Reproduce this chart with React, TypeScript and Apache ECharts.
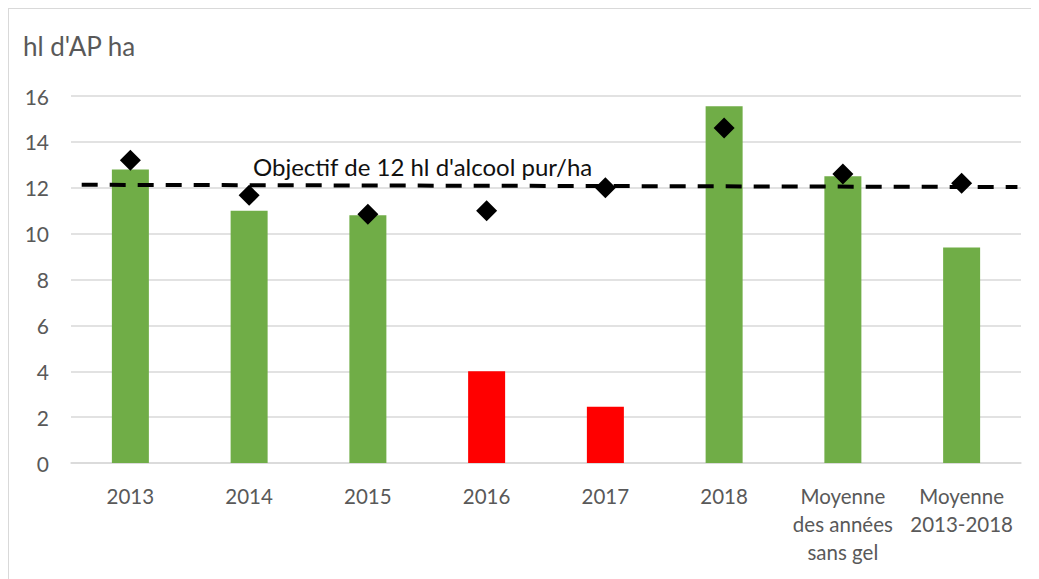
import React, { useEffect, useRef } from "react";
import * as echarts from "echarts";

const categories = ["2013", "2014", "2015", "2016", "2017", "2018", "Moyenne\ndes années\nsans gel", "Moyenne\n2013-2018"];
const barValues = [12.8, 11.0, 10.8, 4.0, 2.45, 15.55, 12.5, 9.4];
const barColors = ["#70ad47", "#70ad47", "#70ad47", "#ff0000", "#ff0000", "#70ad47", "#70ad47", "#70ad47"];
const diamondValues = [13.2, 11.67, 10.84, 11.0, 12.0, 14.6, 12.6, 12.2];
const objectiveLine = [
  [0.09, 12.13],
  [7.97, 12.03],
];
const yTicks = { min: 0, max: 16, interval: 2 };
const yTitle = "hl d'AP ha";
const objectiveLabel = "Objectif de 12 hl d'alcool pur/ha";

const FONT = "Lato, 'Open Sans', sans-serif";

export default function App() {
  const ref = useRef<HTMLDivElement>(null);
  useEffect(() => {
    if (!ref.current) return;
    const chart = echarts.init(ref.current, undefined, { renderer: "svg" });
    chart.setOption({
      animation: false,
      textStyle: { fontFamily: FONT },
      grid: { left: 62, right: 18, top: 87, bottom: 116, containLabel: false },
      xAxis: [
        {
          type: "category",
          data: categories,
          axisLine: { show: true, lineStyle: { color: "#d9d9d9", width: 1.5 } },
          axisTick: { show: false },
          axisLabel: {
            color: "#595959",
            fontSize: 20.5,
            fontFamily: FONT,
            margin: 19,
            lineHeight: 28,
            interval: 0,
          },
        },
        { type: "value", min: 0, max: 8, show: false },
      ],
      yAxis: {
        type: "value",
        min: yTicks.min,
        max: yTicks.max,
        interval: yTicks.interval,
        axisLine: { show: false },
        axisTick: { show: false },
        splitLine: { lineStyle: { color: "#d9d9d9", width: 1.5 } },
        axisLabel: { color: "#595959", fontSize: 21, fontFamily: FONT, margin: 22 },
      },
      graphic: [
        {
          type: "text",
          left: 14,
          top: 24,
          style: { text: yTitle, fill: "#595959", font: `26px ${FONT}` },
        },
        {
          type: "text",
          left: 244,
          top: 145,
          z: 10,
          style: { text: objectiveLabel, fill: "#111111", font: `24px ${FONT}` },
        },
      ],
      series: [
        {
          type: "bar",
          barWidth: 37,
          data: barValues.map((v, i) => ({ value: v, itemStyle: { color: barColors[i] } })),
          z: 2,
        },
        {
          type: "line",
          xAxisIndex: 1,
          data: objectiveLine,
          symbol: "none",
          lineStyle: { color: "#000000", width: 4, type: [16, 12] },
          z: 3,
        },
        {
          type: "scatter",
          data: diamondValues,
          symbol: "diamond",
          symbolSize: 21,
          itemStyle: { color: "#000000", opacity: 1 },
          z: 4,
        },
      ],
    });
    return () => chart.dispose();
  }, []);
  return (
    <div style={{ borderTop: "1px solid #d9d9d9", borderLeft: "1px solid #d9d9d9", width: 1030, height: 570 }}>
      <div ref={ref} style={{ width: 1030, height: 570 }} />
    </div>
  );
}
